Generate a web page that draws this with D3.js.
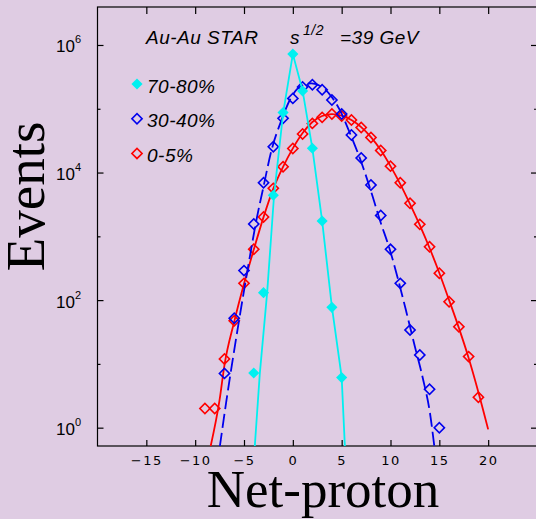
<!DOCTYPE html>
<html lang="en">
<head>
<meta charset="UTF-8">
<title>Net-proton distributions, Au-Au STAR 39 GeV</title>
<script src="https://d3js.org/d3.v7.min.js"></script>
<style>
  body { margin: 0; background: #dfcce3; }
  svg { display: block; }
  .xlab { font-family: "DejaVu Sans", sans-serif; font-size: 13px; letter-spacing: 1.5px; }
  .ylab { font-family: "Liberation Sans", sans-serif; font-size: 17px; }
  .note { font-family: "Liberation Sans", sans-serif; font-style: italic; font-size: 19px; letter-spacing: 0.5px; }
  .title { font-family: "Liberation Serif", "Times New Roman", serif; }
</style>
</head>
<body>
<script>
// measured points (net-proton number -> events)
const cyanX = [-4, -3, -2, -1, 0, 1, 2, 3, 4, 5];
const cyanY = [7.2, 131, 4400, 87000, 720000, 190000, 24000, 1740, 77, 6.1];

const blueX = d3.range(-7, 16);
const blueY = [7.1, 52, 290, 1560, 6900, 25400, 70700, 145500, 219000, 238000, 199000, 137000,
               82600, 38700, 16900, 6370, 2120, 625, 183, 34, 13.8, 4.0, 1.0];

const redX = d3.range(-9, 20);
const redY = [2.0, 2.0, 11.9, 47.5, 183, 626, 2010, 5650, 12300, 23900, 40100, 59000, 73300, 82600,
              76900, 66500, 50700, 35400, 22100, 12600, 6920, 3290, 1540, 687, 263, 94.4, 38.3, 13.0, 3.0];

// fitted curves
const cyanFitX = [-3.9, -3.38, -2.63, -1.92, -0.99, 0, 1, 2, 3, 4, 5, 5.33];
const cyanFitY = [0.5, 7.1, 131, 4440, 86500, 720000, 192000, 23900, 1740, 78, 6.2, 0.5];

const blueFitX = [-7.48, -6.79, -5.5, -4.58, -3.66, -3.04, -2.18, -1.16, -0.13, 0.72, 1.92, 3, 4,
                  4.82, 5.84, 7.04, 8.06, 8.91, 9.94, 10.79, 11.65, 12.5, 13.35, 14.04, 14.48];
const blueFitY = [0.5, 2.72, 48.8, 334, 2030, 5650, 22500, 66500, 154000, 221000, 250000, 219000, 152000,
                  95000, 41600, 14100, 4770, 1800, 610, 207, 62.8, 18.6, 5.6, 1.7, 0.52];

const redFitX = [-8.43, -7.5, -7, -6, -5, -4, -3, -2, -1, 0, 1, 2, 3, 4, 5, 6, 7, 8, 9, 10,
                 11, 12, 13, 14, 15, 16, 17, 18, 19, 20];
const redFitY = [0.5, 2.72, 9.6, 46, 180, 620, 2000, 5600, 12300, 23900, 41600, 61900, 76900, 82600,
                 78200, 66500, 51600, 36000, 22500, 12600, 6600, 3210, 1500, 656, 266, 100, 36.7, 12.4, 3.6, 0.94];

const xTicks = [-15, -10, -5, 0, 5, 10, 15, 20];
const yMajor = [1, 100, 1e4, 1e6];
const yMinor = [10, 1000, 1e5];
const legendLabels = ["70-80%", "30-40%", "0-5%"];

const width = 536, height = 519;
const plot = { left: 97.5, right: 537, top: 7, bottom: 446 };

const svg = d3.select("body").append("svg")
    .attr("width", width)
    .attr("height", height);

const x = d3.scaleLinear().domain([-20, 25]).range([plot.left, plot.right]);
const y = d3.scaleLog().domain([0.516, 3.94e6]).range([plot.bottom, plot.top]);

svg.append("defs").append("clipPath").attr("id", "clip")
  .append("rect")
    .attr("x", plot.left).attr("y", plot.top)
    .attr("width", plot.right - plot.left).attr("height", plot.bottom - plot.top);

// axes, ticks pointing inside
function clean(g) {
  g.select(".domain").remove();
  g.selectAll(".tick line").attr("stroke", "#000").attr("stroke-width", 1.2);
}

svg.append("g")
    .attr("transform", `translate(0,${plot.bottom})`)
    .call(d3.axisBottom(x).tickValues(xTicks).tickSizeInner(-6).tickSizeOuter(0).tickPadding(10)
      .tickFormat(d => d < 0 ? "\u2212" + Math.abs(d) : d))
    .call(clean)
    .selectAll("text").attr("class", "xlab").attr("fill", "#000");

svg.append("g")
    .attr("transform", `translate(0,${plot.top})`)
    .call(d3.axisTop(x).tickValues(xTicks).tickSizeInner(-7).tickSizeOuter(0).tickFormat(""))
    .call(clean);

[[plot.left, d3.axisLeft], [plot.right, d3.axisRight]].forEach(([pos, axis]) => {
  svg.append("g").attr("transform", `translate(${pos},0)`)
      .call(axis(y).tickValues(yMajor).tickSizeInner(-6).tickSizeOuter(0).tickFormat(""))
      .call(clean);
  svg.append("g").attr("transform", `translate(${pos},0)`)
      .call(axis(y).tickValues(yMinor).tickSizeInner(-3).tickSizeOuter(0).tickFormat(""))
      .call(clean);
});

// y labels as 10^n
const ylab = svg.append("g").selectAll("text")
  .data(yMajor)
  .join("text")
    .attr("class", "ylab")
    .attr("x", 56)
    .attr("y", d => y(d) + 7.5);
ylab.append("tspan").text("10");
ylab.append("tspan").attr("dy", -9).attr("font-size", 11).text(d => Math.round(Math.log10(d)));

svg.append("rect")
    .attr("x", plot.left).attr("y", plot.top)
    .attr("width", plot.right - plot.left).attr("height", plot.bottom - plot.top)
    .attr("fill", "none").attr("stroke", "#000").attr("stroke-width", 1.2);

// series
const series = [
  { name: "0-5%", xs: redX, ys: redY, fx: redFitX, fy: redFitY, color: "#ff0000", dash: null, filled: false, curve: d3.curveMonotoneX },
  { name: "30-40%", xs: blueX, ys: blueY, fx: blueFitX, fy: blueFitY, color: "#0000ee", dash: "14,5", filled: false, curve: d3.curveMonotoneX },
  { name: "70-80%", xs: cyanX, ys: cyanY, fx: cyanFitX, fy: cyanFitY, color: "#00f0f0", dash: null, filled: true, curve: d3.curveLinear }
];

const diamond = (filled) => d3.symbol().type(d3.symbolSquare).size(filled ? 62 : 52)();

series.forEach(s => {
  const line = d3.line()
      .x(d => x(d[0]))
      .y(d => y(d[1]))
      .curve(s.curve);

  svg.append("path")
      .datum(d3.zip(s.fx, s.fy))
      .attr("clip-path", "url(#clip)")
      .attr("fill", "none")
      .attr("stroke", s.color)
      .attr("stroke-width", 1.8)
      .attr("stroke-dasharray", s.dash)
      .attr("d", line);

  svg.append("g").selectAll("path")
    .data(d3.zip(s.xs, s.ys))
    .join("path")
      .attr("d", diamond(s.filled))
      .attr("transform", d => `translate(${x(d[0])},${y(d[1])}) rotate(45)`)
      .attr("fill", s.filled ? s.color : "none")
      .attr("stroke", s.color)
      .attr("stroke-width", s.filled ? 0 : 1.6);
});

// legend
const legendColors = ["#00f0f0", "#0000ee", "#ff0000"];
const legend = svg.append("g").selectAll("g")
  .data(legendLabels)
  .join("g")
    .attr("transform", (d, i) => `translate(137,${84 + i * 34.7})`);
legend.append("path")
    .attr("d", (d, i) => diamond(i === 0))
    .attr("transform", "rotate(45)")
    .attr("fill", (d, i) => i === 0 ? legendColors[i] : "none")
    .attr("stroke", (d, i) => legendColors[i])
    .attr("stroke-width", (d, i) => i === 0 ? 0 : 1.6);
legend.append("text")
    .attr("class", "note")
    .attr("x", 10)
    .attr("y", 8.5)
    .text(d => d);

// header text
svg.append("text").attr("class", "note").attr("x", 146).attr("y", 44).text("Au-Au STAR");
const sq = svg.append("text").attr("class", "note").attr("x", 290).attr("y", 44);
sq.append("tspan").text("s");
sq.append("tspan").attr("dx", 3).attr("dy", -9).attr("font-size", 14).text("1/2");
svg.append("text").attr("class", "note").attr("x", 340).attr("y", 44).text("=39 GeV");

// axis titles
svg.append("text")
    .attr("class", "title")
    .attr("x", 323).attr("y", 506.5)
    .attr("text-anchor", "middle")
    .attr("font-size", 53)
    .text("Net-proton");

svg.append("text")
    .attr("class", "title")
    .attr("transform", "translate(44,196.5) rotate(-90)")
    .attr("text-anchor", "middle")
    .attr("font-size", 55)
    .text("Events");
</script>
</body>
</html>
